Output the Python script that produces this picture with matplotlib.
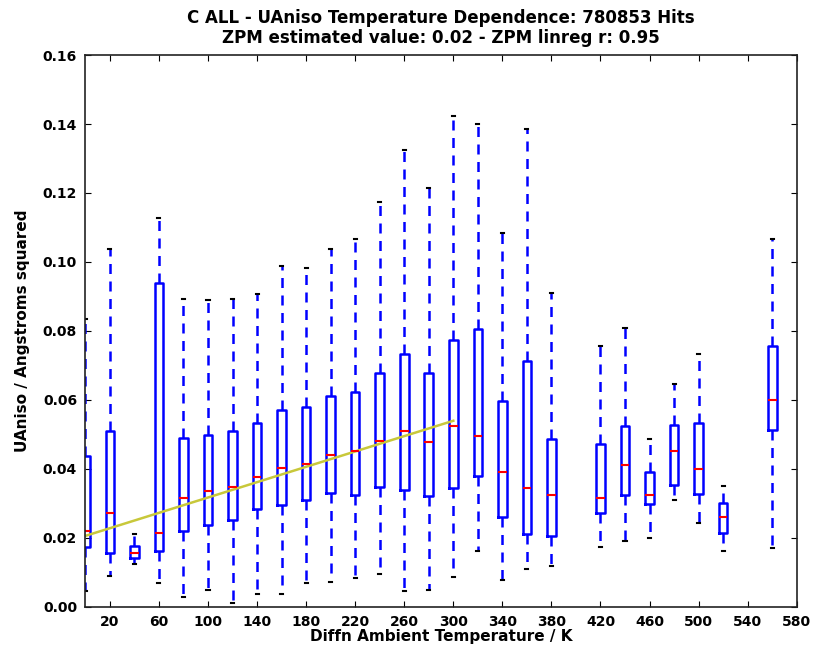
import matplotlib
matplotlib.use("Agg")
import matplotlib.pyplot as plt

# Temperature bins (K)
positions = [0, 20, 40, 60, 80, 100, 120, 140, 160, 180, 200, 220, 240, 260, 280,
             300, 320, 340, 360, 380, 420, 440, 460, 480, 500, 520, 560]
whis_lo = [0.0046, 0.0090, 0.0122, 0.0069, 0.0027, 0.0048, 0.0010, 0.0037, 0.0037, 0.0069,
           0.0072, 0.0082, 0.0095, 0.0044, 0.0049, 0.0087, 0.0160, 0.0077, 0.0109, 0.0119,
           0.0172, 0.0191, 0.0198, 0.0309, 0.0242, 0.0160, 0.0169]
q1 = [0.0174, 0.0155, 0.0140, 0.0162, 0.0218, 0.0237, 0.0251, 0.0283, 0.0295, 0.0309,
      0.0329, 0.0325, 0.0348, 0.0338, 0.0322, 0.0343, 0.0378, 0.0261, 0.0211, 0.0206,
      0.0272, 0.0324, 0.0298, 0.0353, 0.0327, 0.0214, 0.0512]
medians = [0.0218, 0.0271, 0.0155, 0.0213, 0.0314, 0.0336, 0.0346, 0.0375, 0.0401, 0.0414,
           0.0441, 0.0452, 0.0481, 0.0508, 0.0476, 0.0525, 0.0496, 0.0391, 0.0345, 0.0324,
           0.0314, 0.0412, 0.0325, 0.0452, 0.0399, 0.0261, 0.0599]
q3 = [0.0438, 0.0508, 0.0175, 0.0939, 0.0488, 0.0499, 0.0510, 0.0532, 0.0571, 0.0578,
      0.0611, 0.0621, 0.0677, 0.0732, 0.0677, 0.0774, 0.0805, 0.0597, 0.0711, 0.0486,
      0.0472, 0.0524, 0.0391, 0.0528, 0.0532, 0.0301, 0.0755]
whis_hi = [0.0834, 0.1037, 0.0209, 0.1127, 0.0892, 0.0889, 0.0892, 0.0906, 0.0987, 0.0982,
           0.1037, 0.1066, 0.1174, 0.1326, 0.1213, 0.1423, 0.1399, 0.1083, 0.1385, 0.0911,
           0.0757, 0.0809, 0.0485, 0.0645, 0.0732, 0.0349, 0.1066]

# ZPM linear regression line
fit_x = [0, 300]
fit_y = [0.0205, 0.0539]

xticks = [20, 60, 100, 140, 180, 220, 260, 300, 340, 380, 420, 460, 500, 540, 580]
yticks = [0.00, 0.02, 0.04, 0.06, 0.08, 0.10, 0.12, 0.14, 0.16]

title = ("C ALL - UAniso Temperature Dependence: 780853 Hits\n"
         "ZPM estimated value: 0.02 - ZPM linreg r: 0.95")

plt.rcParams['font.family'] = ['DejaVu Sans']
plt.rcParams['font.weight'] = 'bold'

fig = plt.figure(figsize=(8.13, 6.48), dpi=100)
ax = fig.add_axes([0.105, 0.064, 0.875, 0.851])

stats = []
for lo, a, m, b, hi in zip(whis_lo, q1, medians, q3, whis_hi):
    stats.append(dict(whislo=lo, q1=a, med=m, q3=b, whishi=hi, fliers=[]))

ax.bxp(stats, positions=positions, widths=7, showfliers=False, manage_ticks=False,
       boxprops=dict(color='#0000ff', linewidth=1.8),
       whiskerprops=dict(color='#0000ff', linewidth=1.8, linestyle=(0, (4.0, 3.0))),
       capprops=dict(color='black', linewidth=1.5),
       medianprops=dict(color='red', linewidth=1.5),
       capwidths=2.5)

ax.plot(fit_x, fit_y, color='#c8c83a', linewidth=1.8)

ax.set_xlim(0, 580)
ax.set_ylim(0, 0.16)
ax.set_xticks(xticks)
ax.set_yticks(yticks)
ax.set_xticklabels([str(t) for t in xticks], fontsize=10, fontweight='bold')
ax.set_yticklabels(["%.2f" % t for t in yticks], fontsize=10, fontweight='bold')
ax.tick_params(direction='in', top=True, right=True, length=4, width=0.8, pad=6)
for s in ax.spines.values():
    s.set_linewidth(1.2)
    s.set_color('#222222')

ax.set_title(title, fontsize=12, fontweight='bold', linespacing=1.1, pad=9)
ax.set_xlabel("Diffn Ambient Temperature / K", fontsize=11, fontweight='bold', labelpad=0)
ax.set_ylabel("UAniso / Angstroms squared", fontsize=11, fontweight='bold', labelpad=9)

fig.savefig("out.png", dpi=100)
